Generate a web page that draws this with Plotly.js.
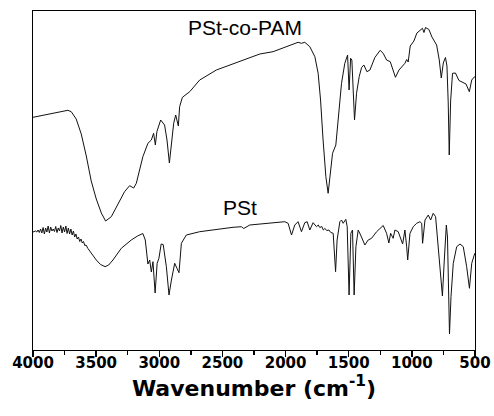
<!DOCTYPE html>
<html>
<head>
<meta charset="utf-8">
<script src="https://cdn.plot.ly/plotly-3.0.1.min.js"></script>
<style>html,body{margin:0;padding:0;background:#fff;}#chart{width:494px;height:416px;}</style>
</head>
<body>
<div id="chart"></div>
<script>
// PSt-co-PAM spectrum (wavenumber, cm^-1) and transmittance (a.u.)
const copolyWavenumber = [4000,3869,3724,3697,3658,3618,3578,3539,3499,3459,3425,3380,3328,3275,3235,3203,3182,3156,3130,3090,3063,3045,3031,3019,2989,2958,2939,2920,2904,2886,2870,2857,2849,2839,2817,2759,2680,2548,2389,2363,2284,2204,2099,1967,1927,1901,1874,1848,1808,1768,1742,1723,1703,1681,1663,1644,1628,1602,1584,1557,1531,1509,1497,1485,1475,1465,1454,1438,1417,1398,1380,1356,1332,1293,1251,1227,1200,1171,1150,1130,1102,1079,1055,1041,1029,1013,984,960,936,916,904,892,865,841,804,783,767,751,734,722,712,704,693,678,655,627,603,571,545,526,506,500];
const copolyValue = [23.27,23.63,23.97,23.83,23.1,21.6,19.4,16.9,15.1,13.7,12.9,13.33,14.5,15.83,16.43,16.2,16.67,18.17,19.33,20.67,21.0,21.67,20.5,21.83,23.0,22.5,21.0,18.7,20.33,22.67,23.5,22.83,22.4,24.33,25.27,25.83,27.0,28.0,28.73,28.83,29.27,29.6,29.83,30.5,30.67,30.77,30.67,30.77,30.33,29.33,27.67,25.0,21.0,17.33,15.67,17.67,19.67,20.5,23.33,26.67,28.67,29.5,26.0,29.17,29.0,26.67,23.0,25.67,27.33,28.25,28.5,27.83,28.0,29.25,29.97,29.67,29.0,28.83,28.1,27.27,28.0,28.33,28.67,29.05,28.8,30.4,30.9,31.7,32.0,32.17,31.75,32.25,32.05,31.3,30.5,29.0,27.2,28.7,29.25,28.4,24.7,19.5,24.9,27.67,27.7,26.95,26.8,26.6,25.83,27.0,27.3,27.33];

// PSt spectrum
const pstWavenumber = [4000,3990,3980,3970,3960,3950,3940,3930,3920,3910,3900,3890,3880,3870,3860,3850,3840,3830,3820,3810,3800,3790,3780,3770,3760,3750,3740,3730,3720,3710,3700,3690,3680,3670,3660,3650,3640,3630,3620,3610,3600,3590,3580,3566,3499,3465,3429,3401,3367,3301,3222,3172,3130,3111,3090,3076,3063,3050,3033,3017,3003,2985,2969,2944,2923,2904,2878,2860,2844,2825,2786,2680,2548,2416,2350,2331,2284,2151,2006,1980,1953,1927,1901,1874,1848,1829,1808,1782,1755,1741,1729,1713,1701,1689,1673,1657,1642,1623,1604,1592,1570,1557,1544,1523,1512,1497,1483,1470,1457,1443,1425,1406,1372,1346,1319,1279,1227,1200,1182,1168,1148,1134,1108,1073,1055,1041,1033,1015,989,962,936,922,915,896,870,851,831,812,791,770,758,743,727,718,712,702,690,672,645,619,593,566,544,526,506,500];
const pstValue = [11.8,11.85,11.9,11.8,12.0,11.75,12.1,11.7,12.25,11.6,12.2,11.8,12.4,11.7,12.3,11.9,12.1,11.85,12.35,11.75,12.2,11.9,12.45,11.7,12.3,11.8,12.4,11.65,12.2,11.6,12.1,11.5,11.9,11.3,11.6,11.1,11.3,10.85,11.1,10.7,10.85,10.45,10.5,10.17,9.0,8.55,8.33,8.5,9.0,10.17,11.0,11.4,11.65,11.0,8.6,9.0,7.8,8.83,5.7,8.67,9.17,10.6,10.55,8.33,5.5,7.0,8.67,8.17,7.73,10.67,11.5,11.83,12.07,12.27,12.33,12.15,12.5,12.67,12.83,12.67,11.5,12.5,12.83,11.83,12.73,12.83,12.0,12.73,12.33,12.5,12.25,12.35,12.0,12.15,11.95,12.0,11.75,11.67,7.83,11.0,12.83,13.0,12.67,13.07,12.33,5.5,11.67,12.0,5.5,10.33,12.0,11.5,10.5,11.0,11.17,11.83,12.45,11.67,10.7,11.67,11.17,12.0,11.83,10.6,12.0,10.33,9.0,11.67,12.33,12.67,12.83,12.67,10.67,13.0,13.5,13.0,13.67,13.33,10.33,7.0,5.4,9.0,12.5,11.3,6.0,1.6,5.33,8.67,10.33,10.6,10.33,8.33,6.17,8.67,9.5,9.7];

const seriesLabels = ['PSt-co-PAM', 'PSt'];
const labelPositions = [[2319, 32.3], [2357, 14.3]];
const xTickValues = [4000,3500,3000,2500,2000,1500,1000,500];

const traces = [
  {x: copolyWavenumber, y: copolyValue, name: seriesLabels[0], type: 'scatter', mode: 'lines',
   line: {color: '#111', width: 1}},
  {x: pstWavenumber, y: pstValue, name: seriesLabels[1], type: 'scatter', mode: 'lines',
   line: {color: '#111', width: 1}}
];

const layout = {
  width: 494, height: 416,
  margin: {l: 33, r: 19, t: 11, b: 66, pad: 0},
  paper_bgcolor: '#fff', plot_bgcolor: '#fff',
  showlegend: false,
  xaxis: {
    range: [4000, 500], tickvals: xTickValues, ticktext: xTickValues.map(String),
    ticks: 'outside', ticklen: 6, tickwidth: 1.3, tickcolor: '#000',
    ticklabelstandoff: -7,
    minor: {dtick: 250, ticks: 'outside', ticklen: 3.5, tickwidth: 1.3, tickcolor: '#000', showgrid: false},
    showline: true, linecolor: '#000', linewidth: 1.3, mirror: true,
    showgrid: false, zeroline: false,
    tickfont: {family: 'DejaVu Sans', size: 15, color: '#000', weight: 'bold'},
    title: {text: 'Wavenumber (cm<sup>-1</sup>)', standoff: 2,
            font: {family: 'DejaVu Sans', size: 22, color: '#000', weight: 'bold'}}
  },
  yaxis: {
    range: [0, 33.9], showticklabels: false, ticks: '',
    showline: true, linecolor: '#000', linewidth: 1.3, mirror: true,
    showgrid: false, zeroline: false
  },
  annotations: seriesLabels.map((t, i) => ({
    x: labelPositions[i][0], y: labelPositions[i][1], xref: 'x', yref: 'y',
    text: t, showarrow: false, xanchor: 'center', yanchor: 'middle',
    font: {family: 'Liberation Sans, Arial', size: 21, color: '#000'}
  }))
};

Plotly.newPlot('chart', traces, layout, {displayModeBar: false, staticPlot: true});
</script>
</body>
</html>
